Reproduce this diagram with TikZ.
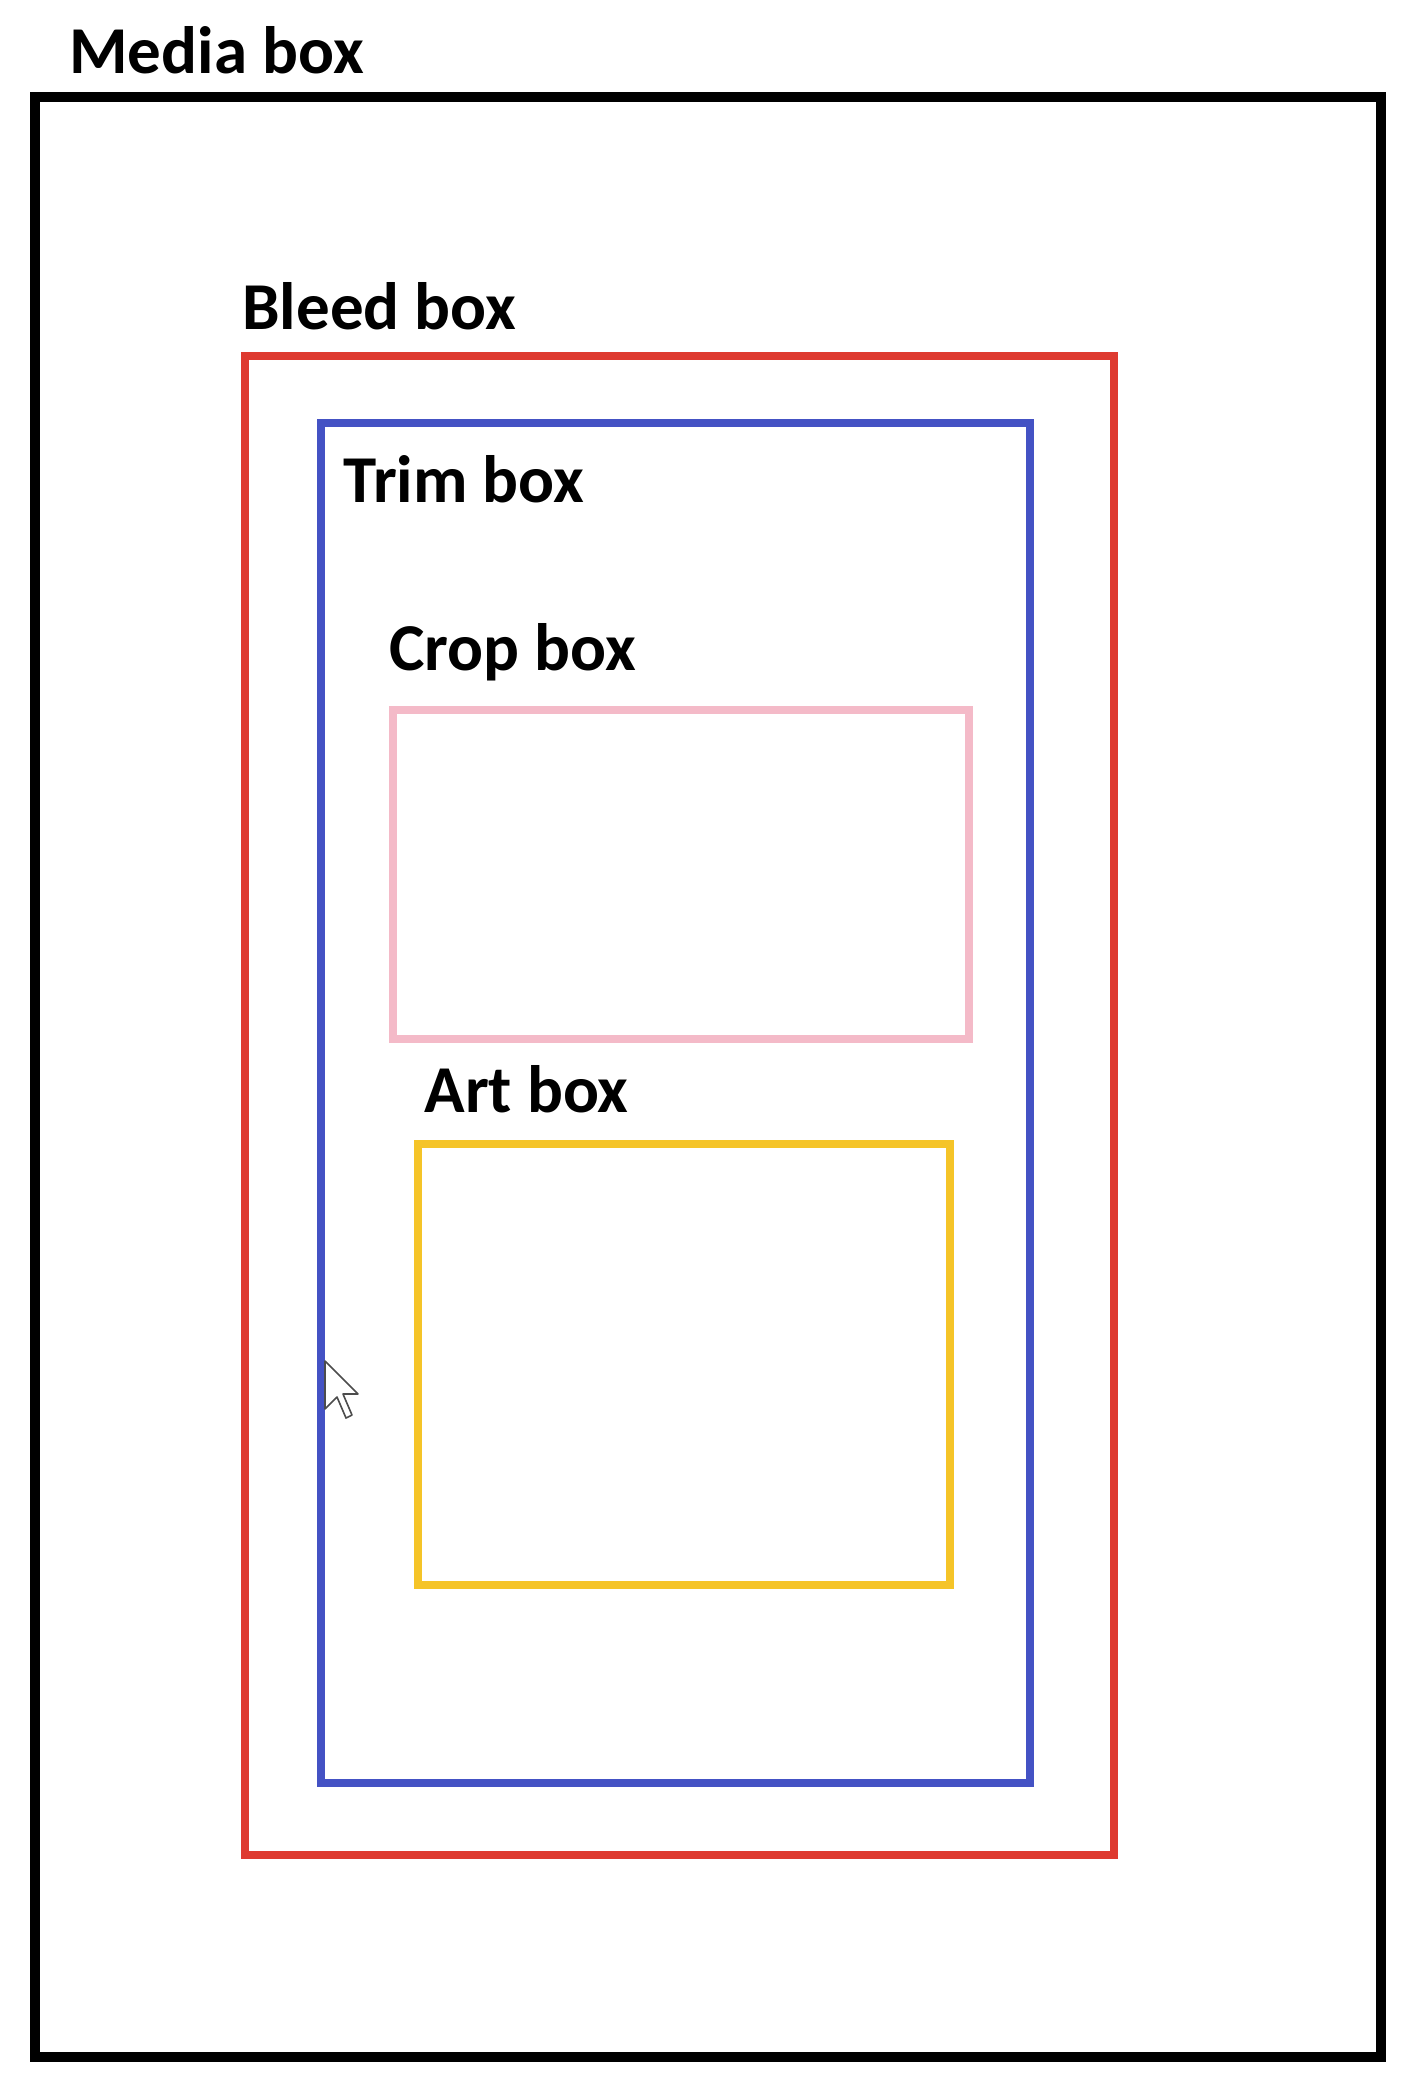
\documentclass[tikz,border=0pt]{standalone}
\usepackage{fontspec}
\setmainfont{Carlito}
\definecolor{bleedRed}{RGB}{222,58,48}
\definecolor{trimBlue}{RGB}{68,82,196}
\definecolor{cropPink}{RGB}{244,186,200}
\definecolor{artYellow}{RGB}{245,196,40}

\begin{document}
\begin{tikzpicture}
[x=0.5pt,y=-0.5pt,
  boxDecorate/.style={line join=miter},%
  labelDecorate/.style={anchor=base west,inner sep=0pt,font=\bfseries\fontsize{33.5}{38}\selectfont}]
\useasboundingbox (0,0) rectangle (1426,2088);
%% boxes
\foreach \boxname/\boxcolor/\boxwidth/\xa/\ya/\xb/\yb in {
  media/black/5/35/97/1381/2057,
  bleed/bleedRed/4.2/245/356/1114/1855,
  trim/trimBlue/4.2/321/423/1030/1783,
  crop/cropPink/4.2/393/710/969/1039,
  art/artYellow/4.2/418/1144/950/1585}
{
  \draw[boxDecorate,draw=\boxcolor,line width=\boxwidth pt] (\xa,\ya) rectangle (\xb,\yb);
}
%% labels
\foreach \labelname/\x/\y/\labeltext in {
  mediaLabel/69/73/Media box,
  bleedLabel/242/329/Bleed box,
  trimLabel/343/502/Trim box,
  cropLabel/389/670/Crop box,
  artLabel/424/1112/Art box}
{
  \node (\labelname) at (\x,\y) [labelDecorate] {\labeltext};
}
%% mouse pointer
\draw[fill=white,draw=black!70,line width=0.8pt,line join=round]
  (325,1361) -- ++(0,48) -- ++(12,-12) -- ++(9,21) -- ++(6,-3)
  -- ++(-9,-21) -- ++(15,0) -- cycle;
\end{tikzpicture}
\end{document}
